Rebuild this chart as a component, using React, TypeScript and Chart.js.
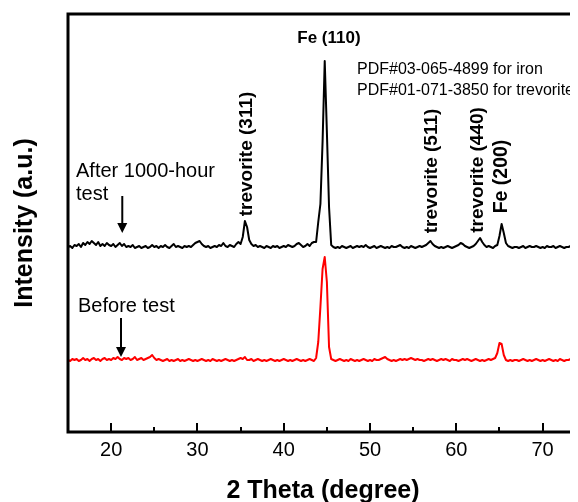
import { useEffect, useRef } from "react";
import { Chart, registerables } from "chart.js";

Chart.register(...registerables);

// ---- data ----
const SCAN_START = 15; // 2θ of first scan point (degree)
const SCAN_STEP = 0.25; // scan step (degree)

// After 1000-hour test (black, stacked above)
const AFTER_TEST = [
  185, 186, 184, 187, // 15
  186, 188, 185, 189, // 16
  187, 190, 188, 191, // 17
  189, 187, 190, 186, // 18
  188, 186, 189, 187, // 19
  186, 188, 185, 187, // 20
  189, 186, 188, 185, // 21
  186, 185, 187, 184, // 22
  185, 186, 184, 185, // 23
  186, 184, 185, 187, // 24
  185, 186, 184, 186, // 25
  185, 187, 185, 184, // 26
  186, 188, 185, 186, // 27
  185, 184, 186, 185, // 28
  186, 185, 187, 189, // 29
  190, 191, 188, 186, // 30
  185, 186, 184, 185, // 31
  186, 185, 187, 186, // 32
  189, 186, 185, 187, // 33
  186, 185, 188, 190, // 34
  188, 195, 211, 205, // 35
  192, 188, 186, 187, // 36
  185, 186, 185, 184, // 37
  186, 185, 184, 186, // 38
  185, 186, 184, 185, // 39
  186, 185, 187, 186, // 40
  185, 186, 188, 189, // 41
  187, 185, 186, 188, // 42
  186, 189, 190, 190, // 43
  210, 228, 290, 371, // 44
  300, 225, 187, 185, // 45
  184, 185, 184, 186, // 46
  185, 184, 185, 186, // 47
  184, 185, 186, 185, // 48
  186, 185, 187, 185, // 49
  184, 185, 186, 184, // 50
  185, 186, 185, 184, // 51
  185, 184, 186, 185, // 52
  185, 186, 187, 185, // 53
  184, 185, 184, 186, // 54
  185, 184, 185, 186, // 55
  185, 186, 187, 189, // 56
  191, 188, 186, 185, // 57
  184, 185, 184, 185, // 58
  186, 185, 184, 185, // 59
  186, 187, 189, 188, // 60
  186, 185, 184, 185, // 61
  186, 188, 191, 194, // 62
  190, 187, 185, 186, // 63
  185, 184, 186, 187, // 64
  196, 208, 199, 189, // 65
  186, 185, 184, 185, // 66
  185, 184, 185, 186, // 67
  184, 185, 186, 185, // 68
  185, 186, 185, 184, // 69
  185, 184, 186, 185, // 70
  185, 186, 184, 185, // 71
  186, 185, 184, 185, // 72
  185, 186, 185, 184, // 73
  185, 186, // 74
];

// Before test (red)
const BEFORE_TEST = [
  72, 71, 73, 72, // 15
  73, 71, 72, 74, // 16
  72, 73, 71, 73, // 17
  74, 72, 73, 71, // 18
  73, 74, 72, 73, // 19
  72, 74, 73, 75, // 20
  73, 72, 74, 73, // 21
  74, 72, 73, 75, // 22
  72, 73, 74, 72, // 23
  73, 74, 75, 77, // 24
  74, 72, 73, 72, // 25
  71, 72, 73, 71, // 26
  72, 71, 72, 73, // 27
  71, 72, 71, 72, // 28
  73, 72, 71, 72, // 29
  71, 72, 73, 72, // 30
  71, 72, 71, 73, // 31
  72, 71, 72, 71, // 32
  72, 73, 72, 71, // 33
  72, 71, 72, 73, // 34
  74, 73, 75, 72, // 35
  72, 73, 71, 72, // 36
  73, 72, 71, 72, // 37
  71, 72, 73, 72, // 38
  71, 72, 71, 72, // 39
  73, 72, 71, 72, // 40
  71, 72, 73, 72, // 41
  71, 72, 71, 72, // 42
  73, 72, 71, 74, // 43
  90, 125, 163, 175, // 44
  150, 85, 73, 72, // 45
  71, 72, 73, 72, // 46
  71, 72, 71, 73, // 47
  72, 71, 72, 71, // 48
  72, 73, 72, 71, // 49
  72, 71, 73, 72, // 50
  72, 73, 74, 75, // 51
  73, 72, 71, 72, // 52
  71, 72, 73, 72, // 53
  73, 72, 73, 74, // 54
  73, 72, 73, 72, // 55
  72, 71, 72, 73, // 56
  72, 73, 72, 71, // 57
  72, 73, 72, 73, // 58
  72, 71, 73, 72, // 59
  72, 71, 72, 73, // 60
  72, 73, 72, 71, // 61
  72, 73, 72, 71, // 62
  72, 71, 72, 73, // 63
  72, 73, 74, 79, // 64
  89, 88, 77, 72, // 65
  71, 72, 71, 72, // 66
  72, 71, 72, 73, // 67
  72, 71, 72, 71, // 68
  72, 73, 72, 71, // 69
  72, 71, 72, 73, // 70
  72, 71, 72, 71, // 71
  73, 72, 71, 72, // 72
  72, 73, 72, 71, // 73
  72, 73, // 74
];

const X_MIN = 15;
const X_MAX = 74.1;
const Y_MIN = 0;
const Y_MAX = 418;
const X_TICKS = [20, 30, 40, 50, 60, 70];
const X_TICK_LABELS = ["20", "30", "40", "50", "60", "70"];
const X_MINOR_TICKS = [25, 35, 45, 55, 65];

const X_TITLE = "2 Theta (degree)";
const Y_TITLE = "Intensity (a.u.)";

const FONT = "'Liberation Sans', Arial, sans-serif";

// text annotations in data coordinates
type Note = { text: string; x: number; y: number; size: number; bold: boolean; rotate: boolean; align: CanvasTextAlign };
const NOTES: Note[] = [
  { text: "Fe (110)", x: 45.24, y: 389, size: 17, bold: true, rotate: false, align: "center" },
  { text: "PDF#03-065-4899 for iron", x: 48.49, y: 358, size: 16, bold: false, rotate: false, align: "left" },
  { text: "PDF#01-071-3850 for trevorite", x: 48.49, y: 337, size: 16, bold: false, rotate: false, align: "left" },
  { text: "trevorite (311)", x: 36.32, y: 278, size: 19, bold: true, rotate: true, align: "center" },
  { text: "trevorite (511)", x: 57.76, y: 261, size: 19, bold: true, rotate: true, align: "center" },
  { text: "trevorite (440)", x: 63.09, y: 262, size: 19, bold: true, rotate: true, align: "center" },
  { text: "Fe (200)", x: 65.87, y: 255.5, size: 19.5, bold: true, rotate: true, align: "center" },
  { text: "After 1000-hour", x: 15.93, y: 255, size: 20, bold: false, rotate: false, align: "left" },
  { text: "test", x: 15.93, y: 232, size: 20, bold: false, rotate: false, align: "left" },
  { text: "Before test", x: 16.16, y: 120, size: 20, bold: false, rotate: false, align: "left" },
];

const ARROWS = [
  { x: 21.29, yFrom: 236, yTo: 199 },
  { x: 21.14, yFrom: 114, yTo: 75 },
];

const toPoints = (vals: number[]) => vals.map((v, i) => ({ x: SCAN_START + i * SCAN_STEP, y: v }));

const decorPlugin = {
  id: "xrdDecor",
  afterDatasetsDraw(chart: any) {
    const { ctx, chartArea } = chart;
    const xs = chart.scales.x;
    const ys = chart.scales.y;
    ctx.save();
    ctx.strokeStyle = "#000";
    ctx.fillStyle = "#000";
    // frame: left, bottom, top
    ctx.lineWidth = 3;
    ctx.lineCap = "square";
    ctx.beginPath();
    ctx.moveTo(chartArea.right + 5, chartArea.top);
    ctx.lineTo(chartArea.left, chartArea.top);
    ctx.lineTo(chartArea.left, chartArea.bottom);
    ctx.lineTo(chartArea.right + 5, chartArea.bottom);
    ctx.stroke();
    // inward ticks
    ctx.lineWidth = 2;
    ctx.lineCap = "butt";
    X_TICKS.forEach((v) => {
      const px = Math.round(xs.getPixelForValue(v));
      ctx.beginPath();
      ctx.moveTo(px, chartArea.bottom);
      ctx.lineTo(px, chartArea.bottom - 9);
      ctx.stroke();
    });
    X_MINOR_TICKS.forEach((v) => {
      const px = Math.round(xs.getPixelForValue(v));
      ctx.beginPath();
      ctx.moveTo(px, chartArea.bottom);
      ctx.lineTo(px, chartArea.bottom - 5);
      ctx.stroke();
    });
    // text notes
    NOTES.forEach((n) => {
      const px = xs.getPixelForValue(n.x);
      const py = ys.getPixelForValue(n.y);
      ctx.save();
      ctx.font = `${n.bold ? "bold " : ""}${n.size}px ${FONT}`;
      ctx.textAlign = n.align;
      ctx.textBaseline = "alphabetic";
      ctx.translate(px, py);
      if (n.rotate) ctx.rotate(-Math.PI / 2);
      ctx.fillText(n.text, 0, 0);
      ctx.restore();
    });
    // arrows
    ARROWS.forEach((a) => {
      const px = xs.getPixelForValue(a.x);
      const y0 = ys.getPixelForValue(a.yFrom);
      const y1 = ys.getPixelForValue(a.yTo);
      ctx.lineWidth = 2;
      ctx.beginPath();
      ctx.moveTo(px, y0);
      ctx.lineTo(px, y1 - 8);
      ctx.stroke();
      ctx.beginPath();
      ctx.moveTo(px - 5, y1 - 10);
      ctx.lineTo(px + 5, y1 - 10);
      ctx.lineTo(px, y1);
      ctx.closePath();
      ctx.fill();
    });
    ctx.restore();
  },
};

export default function App() {
  const ref = useRef<HTMLCanvasElement | null>(null);
  useEffect(() => {
    if (!ref.current) return;
    const chart = new Chart(ref.current, {
      type: "line",
      data: {
        datasets: [
          {
            label: "After 1000-hour test",
            data: toPoints(AFTER_TEST),
            borderColor: "#000",
            borderWidth: 2,
            pointRadius: 0,
            tension: 0,
            borderJoinStyle: "round",
          },
          {
            label: "Before test",
            data: toPoints(BEFORE_TEST),
            borderColor: "#ff0000",
            borderWidth: 2,
            pointRadius: 0,
            tension: 0,
            borderJoinStyle: "round",
          },
        ],
      },
      options: {
        responsive: false,
        animation: false,
        devicePixelRatio: 1,
        layout: { padding: { top: 6, right: 0, left: 0, bottom: 0 } },
        plugins: { legend: { display: false }, tooltip: { enabled: false } },
        scales: {
          x: {
            type: "linear",
            min: X_MIN,
            max: X_MAX,
            grid: { display: false, drawTicks: false },
            border: { display: false },
            afterBuildTicks: (scale: any) => {
              scale.ticks = X_TICKS.map((v) => ({ value: v }));
            },
            afterFit: (scale: any) => {
              scale.height = 70;
            },
            ticks: {
              autoSkip: false,
              maxRotation: 0,
              padding: 6,
              color: "#000",
              font: { family: FONT, size: 20 },
              callback: (v: any) => {
                const i = X_TICKS.indexOf(Number(v));
                return i >= 0 ? X_TICK_LABELS[i] : "";
              },
            },
            title: {
              display: true,
              text: X_TITLE,
              color: "#000",
              font: { family: FONT, size: 25, weight: "bold", lineHeight: 0.9 },
              padding: { top: 0, bottom: 0 },
            },
          },
          y: {
            type: "linear",
            min: Y_MIN,
            max: Y_MAX,
            grid: { display: false, drawTicks: false },
            border: { display: false },
            ticks: { display: false },
            afterFit: (scale: any) => {
              scale.width = 60;
            },
            title: {
              display: true,
              text: Y_TITLE,
              color: "#000",
              font: { family: FONT, size: 25, weight: "bold", lineHeight: 1.2 },
              padding: { top: 2, bottom: 0 },
            },
          },
        },
      },
      plugins: [decorPlugin],
    });
    return () => chart.destroy();
  }, []);
  return <canvas ref={ref} width={570} height={494} style={{ display: "block" }} />;
}
